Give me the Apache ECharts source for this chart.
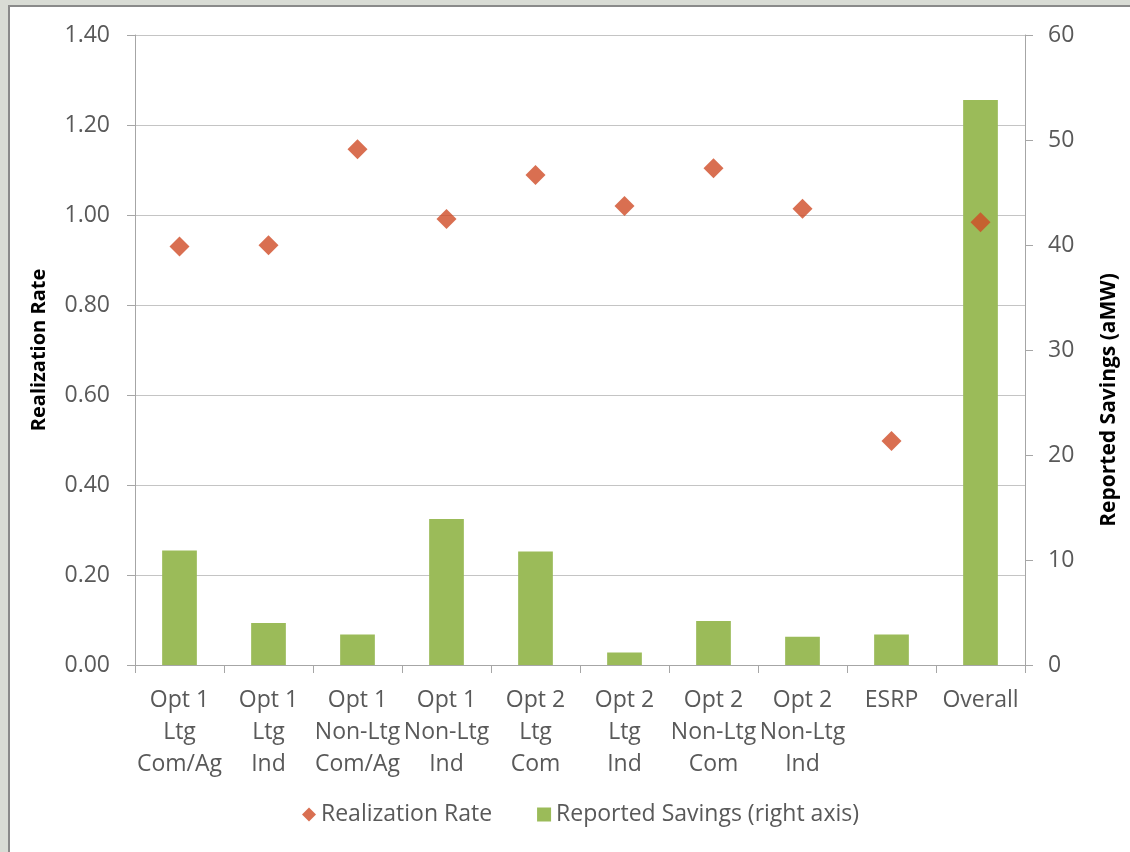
<!DOCTYPE html>
<html>
<head>
<meta charset="utf-8">
<script src="https://cdn.jsdelivr.net/npm/echarts@6/dist/echarts.min.js"></script>
<style>
  html, body { margin: 0; padding: 0; width: 1130px; height: 852px; overflow: hidden; background: #d9dcd5; }
  #frame { position: absolute; left: 8px; top: 5px; width: 1122px; height: 847px; background: #ffffff;
           border-top: 2px solid #8a8a8a; border-left: 2px solid #8a8a8a; box-sizing: border-box; }
  #chart { position: absolute; left: 0; top: 0; width: 1130px; height: 852px; }
</style>
</head>
<body>
<div id="frame"></div>
<div id="chart"></div>
<script>
const categories = [
  'Opt 1\nLtg\nCom/Ag', 'Opt 1\nLtg\nInd', 'Opt 1\nNon-Ltg\nCom/Ag', 'Opt 1\nNon-Ltg\nInd',
  'Opt 2\nLtg\nCom', 'Opt 2\nLtg\nInd', 'Opt 2\nNon-Ltg\nCom', 'Opt 2\nNon-Ltg\nInd',
  'ESRP', 'Overall'
];
const realizationRate = [0.93, 0.933, 1.146, 0.991, 1.089, 1.02, 1.104, 1.014, 0.498, 0.984];
const reportedSavings = [10.9, 4.0, 2.9, 13.9, 10.8, 1.2, 4.2, 2.7, 2.9, 53.8];
const seriesNames = ['Realization Rate', 'Reported Savings (right axis)'];
const axisTitles = ['Realization Rate', 'Reported Savings (aMW)'];

const FONT = '"Open Sans", "Noto Sans", sans-serif';
const TXT = '#595959';
const AXIS = '#a6a6a6';
const GRID = '#c4c4c4';

const chart = echarts.init(document.getElementById('chart'), null, { renderer: 'canvas' });
chart.setOption({
  backgroundColor: 'transparent',
  animation: false,
  textStyle: { fontFamily: FONT },
  grid: { left: 135, right: 105, top: 35, bottom: 187, containLabel: false },
  legend: {
    left: 302, top: 803, padding: 0, itemGap: 45, itemWidth: 14, itemHeight: 14,
    textStyle: { fontFamily: FONT, fontSize: 23, color: TXT },
    data: [
      { name: seriesNames[0], icon: 'diamond' },
      { name: seriesNames[1], icon: 'rect' }
    ]
  },
  xAxis: {
    type: 'category',
    data: categories,
    boundaryGap: true,
    axisLine: { show: true, lineStyle: { color: AXIS, width: 1 } },
    axisTick: { show: true, alignWithLabel: false, length: 8, lineStyle: { color: AXIS } },
    axisLabel: { interval: 0, margin: 19, fontFamily: FONT, fontSize: 23, lineHeight: 32, color: TXT, align: 'center' },
    splitLine: { show: false }
  },
  yAxis: [
    {
      type: 'value', min: 0, max: 1.4, interval: 0.2, position: 'left',
      name: axisTitles[0], nameLocation: 'middle', nameGap: 86, nameRotate: 90,
      nameTextStyle: { fontFamily: FONT, fontSize: 20, fontWeight: 'bold', color: '#000000' },
      axisLine: { show: true, lineStyle: { color: AXIS } },
      axisTick: { show: true, length: 8, lineStyle: { color: AXIS } },
      axisLabel: { margin: 25, fontFamily: FONT, fontSize: 23, color: TXT, formatter: v => v.toFixed(2) },
      splitLine: { show: true, lineStyle: { color: GRID, width: 1 } }
    },
    {
      type: 'value', min: 0, max: 60, interval: 10, position: 'right',
      name: axisTitles[1], nameLocation: 'middle', nameGap: 74, nameRotate: 90,
      nameTextStyle: { fontFamily: FONT, fontSize: 21, fontWeight: 'bold', color: '#000000', padding: [0, 100, 0, 0] },
      axisLine: { show: true, lineStyle: { color: AXIS } },
      axisTick: { show: true, length: 8, lineStyle: { color: AXIS } },
      axisLabel: { margin: 23, fontFamily: FONT, fontSize: 23, color: TXT },
      splitLine: { show: false }
    }
  ],
  series: [
    {
      name: seriesNames[1], type: 'bar', yAxisIndex: 1, data: reportedSavings,
      barWidth: '39%', itemStyle: { color: '#9BBB59' }, z: 2
    },
    {
      name: seriesNames[0], type: 'scatter', yAxisIndex: 0, data: realizationRate,
      symbol: 'diamond', symbolSize: 20, itemStyle: { color: '#CF4B25' }, z: 5
    }
  ]
});
</script>
</body>
</html>
